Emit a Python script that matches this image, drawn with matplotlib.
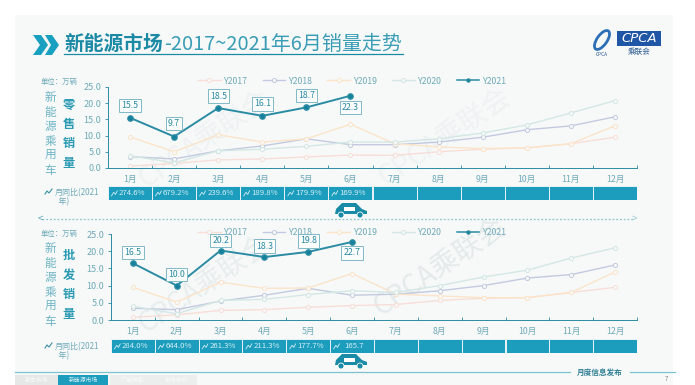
import matplotlib
matplotlib.use("Agg")
from matplotlib import pyplot as plt
from matplotlib.patches import Rectangle, Polygon, Circle, Ellipse

plt.rcParams['font.family'] = ['Noto Sans CJK SC', 'DejaVu Sans']

W, H = 695, 385

months = ["1月", "2月", "3月", "4月", "5月", "6月", "7月", "8月", "9月", "10月", "11月", "12月"]
y_ticks = [0, 5, 10, 15, 20, 25]

# retail
retail_2017 = [0.6, 1.4, 2.5, 2.8, 3.4, 4.0, 3.9, 5.0, 5.8, 6.2, 7.5, 9.5]
retail_2018 = [3.5, 2.8, 5.3, 6.8, 9.0, 7.2, 7.2, 8.0, 9.5, 11.8, 13.0, 15.8]
retail_2019 = [9.6, 5.0, 10.3, 8.0, 9.0, 13.5, 7.5, 6.5, 6.0, 6.2, 7.5, 13.0]
retail_2020 = [3.8, 1.6, 5.3, 5.8, 6.7, 8.0, 8.0, 9.0, 10.8, 13.3, 17.0, 20.8]
retail_2021 = [15.5, 9.7, 18.5, 16.1, 18.7, 22.3]
retail_mom = ["274.6%", "679.2%", "239.6%", "189.8%", "179.9%", "169.9%"]

# wholesale
whole_2017 = [0.8, 1.5, 2.8, 3.0, 3.7, 4.2, 4.5, 5.7, 6.3, 6.5, 8.0, 9.5]
whole_2018 = [3.4, 3.0, 5.5, 7.2, 9.2, 7.2, 7.5, 8.5, 10.0, 12.2, 13.2, 16.0]
whole_2019 = [9.5, 5.2, 11.0, 9.2, 9.3, 13.5, 7.5, 7.0, 6.5, 6.5, 8.0, 14.0]
whole_2020 = [4.0, 1.8, 5.7, 6.0, 7.4, 8.5, 8.0, 10.0, 12.5, 14.5, 18.0, 21.0]
whole_2021 = [16.5, 10.0, 20.2, 18.3, 19.8, 22.7]
whole_mom = ["284.0%", "644.0%", "261.3%", "211.3%", "177.7%", "165.7"]

TEAL = "#2a8ba3"
BAR = "#1c9dbd"
TXT = "#6fa9b8"
PANEL = "#f7f9f9"
colors = {"Y2017": "#f7ded6", "Y2018": "#c3cadf", "Y2019": "#fbe4c9", "Y2020": "#d3e7e4"}

fig = plt.figure(figsize=(W / 100, H / 100), dpi=100, facecolor="white")

# overlay in pixel coordinates for the slide furniture
bg = fig.add_axes([0, 0, 1, 1], zorder=0)
bg.set_xlim(0, W)
bg.set_ylim(H, 0)
bg.axis("off")
bg.add_patch(Rectangle((15, 15), 658, 370, color=PANEL, lw=0))


def axes_px(left, top, right, bottom, z=2):
    a = fig.add_axes([left / W, 1 - bottom / H, (right - left) / W, (bottom - top) / H], zorder=z)
    a.patch.set_alpha(0)
    return a


def draw_panel(left, top, bottom, bar_top, bar_bottom, series, current, mom, offsets, legend_y):
    ax = axes_px(left, top, 637, bottom)
    x = list(range(12))
    for name, vals in series.items():
        ax.plot(x, vals, color=colors[name], lw=1, marker="o", ms=3, mfc=PANEL,
                mec=colors[name], mew=0.7, label=name)
    ax.plot(x[:len(current)], current, color=TEAL, lw=1.4, marker="o", ms=3.8, mfc="#14809a",
            mec=TEAL, label="Y2021")
    for i, v in enumerate(current):
        ax.annotate(f"{v:.1f}", (i, v), xytext=(0, offsets[i]), textcoords="offset pixels",
                    ha="center", va="center", fontsize=6.3, color=TEAL, annotation_clip=False,
                    bbox=dict(boxstyle="square,pad=0.25", fc="#fbfcfc", ec="#7fb8c6", lw=0.7))
    ax.set_xlim(-0.5, 11.5)
    ax.set_ylim(0, 25)
    ax.set_yticks(y_ticks)
    ax.set_yticklabels([f"{t:.1f}" for t in y_ticks])
    ax.set_xticks([i - 0.5 for i in range(13)], minor=False)
    ax.set_xticklabels([])
    ax.set_xticks(x, months, minor=True)
    ax.tick_params(axis="x", which="minor", length=0, labelsize=6.3, labelcolor=TXT, pad=5)
    ax.tick_params(axis="x", which="major", length=2, color=TEAL, direction="in", width=0.6)
    ax.tick_params(axis="y", length=2, color=TEAL, labelsize=6.5, labelcolor=TXT, pad=3, width=0.6)
    for s in ["top", "right"]:
        ax.spines[s].set_visible(False)
    for s in ["left", "bottom"]:
        ax.spines[s].set_color(TEAL)
        ax.spines[s].set_linewidth(0.7)
    handles, labels = ax.get_legend_handles_labels()
    leg = ax.legend(handles, labels, ncol=5, frameon=False, loc="center left", fontsize=6.3, labelcolor=TXT,
                    bbox_to_anchor=((198 - left) / (637 - left), legend_y), handlelength=2.6,
                    handletextpad=0.3, columnspacing=1.75, borderpad=0, borderaxespad=0)
    leg.set_zorder(1)
    leg.legend_handles[-1].set_linewidth(1.1)
    leg.legend_handles[-1].set_markersize(2.2)

    # month on month strip
    strip = axes_px(left, bar_top, 637, bar_bottom)
    strip.bar(x, [1] * 12, width=1, color=BAR, edgecolor="#e8f3f6", lw=0.7)
    strip.axis("off")
    for i, label in enumerate(mom):
        strip.text(i + 0.05, 0.5, label, color="#d5eef4", fontsize=5.6, ha="center", va="center")
        strip.plot([i - 0.42, i - 0.37, i - 0.33, i - 0.29], [0.3, 0.55, 0.4, 0.65], color="#d5eef4", lw=0.6)
    strip.set_xlim(-0.5, 11.5)
    strip.set_ylim(0, 1)


def draw_car(cx, cy):
    bg.add_patch(Polygon([(cx - 16, cy + 4), (cx - 15, cy - 1), (cx - 9, cy - 7), (cx + 5, cy - 7),
                          (cx + 11, cy - 1), (cx + 16, cy + 1), (cx + 16, cy + 4)], color="#1a8ba6", lw=0))
    bg.add_patch(Rectangle((cx - 7, cy - 3), 11, 4, color="white", lw=0))
    for dx in (-10, 9):
        bg.add_patch(Circle((cx + dx, cy + 5), 3, fc="#1a8ba6", ec="white", lw=0.6))


retail = {"Y2017": retail_2017, "Y2018": retail_2018, "Y2019": retail_2019, "Y2020": retail_2020}
whole = {"Y2017": whole_2017, "Y2018": whole_2018, "Y2019": whole_2019, "Y2020": whole_2020}
draw_panel(108, 87, 168, 186, 200, retail, retail_2021, retail_mom, [12, 13, 12, 12, 12, -12], 1.074)
draw_panel(111, 234, 320, 339, 353, whole, whole_2021, whole_mom, [11, 11, 10, 11, 11, -11], 1.012)

# title
bg.add_patch(Polygon([(33, 35), (41, 35), (48, 45), (41, 55), (33, 55), (40, 45)], color="#17a0bf", lw=0))
bg.add_patch(Polygon([(45, 35), (52, 35), (59, 45), (52, 55), (45, 55), (51, 45)], color="#17a0bf", lw=0))
bg.text(64, 44, "新能源市场", fontsize=14.2, fontweight="bold", color="#1c8aa5", va="center")
bg.text(164, 44, "-2017~2021年6月销量走势", fontsize=14.4, color="#3a9db5", va="center")
bg.plot([64, 403], [53.5, 53.5], color="#1c8aa5", lw=0.9)

# logo
bg.add_patch(Ellipse((602, 40), 10, 22, angle=35, fc="none", ec="#2c6fb5", lw=2))
bg.text(602, 54, "CPCA", color="#2c5a9a", fontsize=3.5, ha="center", va="center", style="italic")
bg.add_patch(Rectangle((617, 31), 44, 15, color="#1f56a5", lw=0))
bg.text(639, 38.5, "CPCA", color="white", fontsize=9.5, style="italic", ha="center", va="center", family="DejaVu Sans")
bg.text(639, 52, "乘联会", color="#2a5a90", fontsize=5.5, ha="center", va="center")

# side labels
for y_unit, y_side, y_mom, sales in [(82, 134, 192, "零售销量"), (234, 285, 346, "批发销量")]:
    bg.text(41, y_unit, "单位：万辆", fontsize=5.3, color=TXT, va="center")
    bg.text(50, y_side, "\n".join("新能源乘用车"), fontsize=8.4, color="#6db4c4", ha="center",
            va="center", linespacing=1.15)
    bg.text(69, y_side, "\n".join(sales), fontsize=8.8, fontweight="bold", color="#2a9ab3",
            ha="center", va="center", linespacing=1.65)
    bg.plot([45, 47, 49, 52], [y_mom + 2, y_mom - 1, y_mom + 1, y_mom - 3], color="#3b8fa5", lw=0.8)
    bg.text(55, y_mom + 1, "月同比(2021", fontsize=5.8, color=TXT, va="center")
    bg.text(55, y_mom + 10, "  年)", fontsize=5.8, color=TXT, va="center")

# dotted divider with arrows
bg.plot([42, 634], [219, 219], color="#8fc3cf", lw=0.9, ls=(0, (1.5, 1.5)))
bg.text(40, 219, "<", color="#5fa8ba", fontsize=7, ha="center", va="center")
bg.text(634, 219, ">", color="#9cc8d2", fontsize=7, ha="center", va="center")
draw_car(351, 210)
draw_car(351, 361)

# watermarks
for wx, wy, wc in [(205, 140, "#eef2f2"), (445, 138, "#eef2f2"), (205, 285, "#e8eded"), (440, 268, "#e4eaea")]:
    bg.text(wx, wy, "CPCA乘联会", fontsize=20, color=wc, rotation=34, ha="center", va="center")

# footer
bg.plot([15, 570], [372, 372], color="#7fc2cf", lw=0.9)
bg.plot([630, 675], [372, 372], color="#7fc2cf", lw=0.9)
bg.text(600, 372, "月度信息发布", color="#2f7f92", fontsize=5.5, style="italic", fontweight="bold",
        ha="center", va="center")
bg.text(666, 379, "7", color="#888888", fontsize=4.5, ha="center", va="center")
for label, x0, x1, col, tc in [("新车市场", 15, 58, "#e6e8e8", "#fafafa"), ("新能源市场", 58, 108, "#1c9dbd", "#d5eef4"),
                               ("厂商排名", 110, 155, "#eceeee", "#fafafa"), ("市场分析", 155, 197, "#eceeee", "#fafafa")]:
    bg.add_patch(Rectangle((x0, 375), x1 - x0, 10, color=col, lw=0))
    bg.text((x0 + x1) / 2, 380, label, color=tc, fontsize=4.2, ha="center", va="center")

fig.savefig("out.png", dpi=100)
